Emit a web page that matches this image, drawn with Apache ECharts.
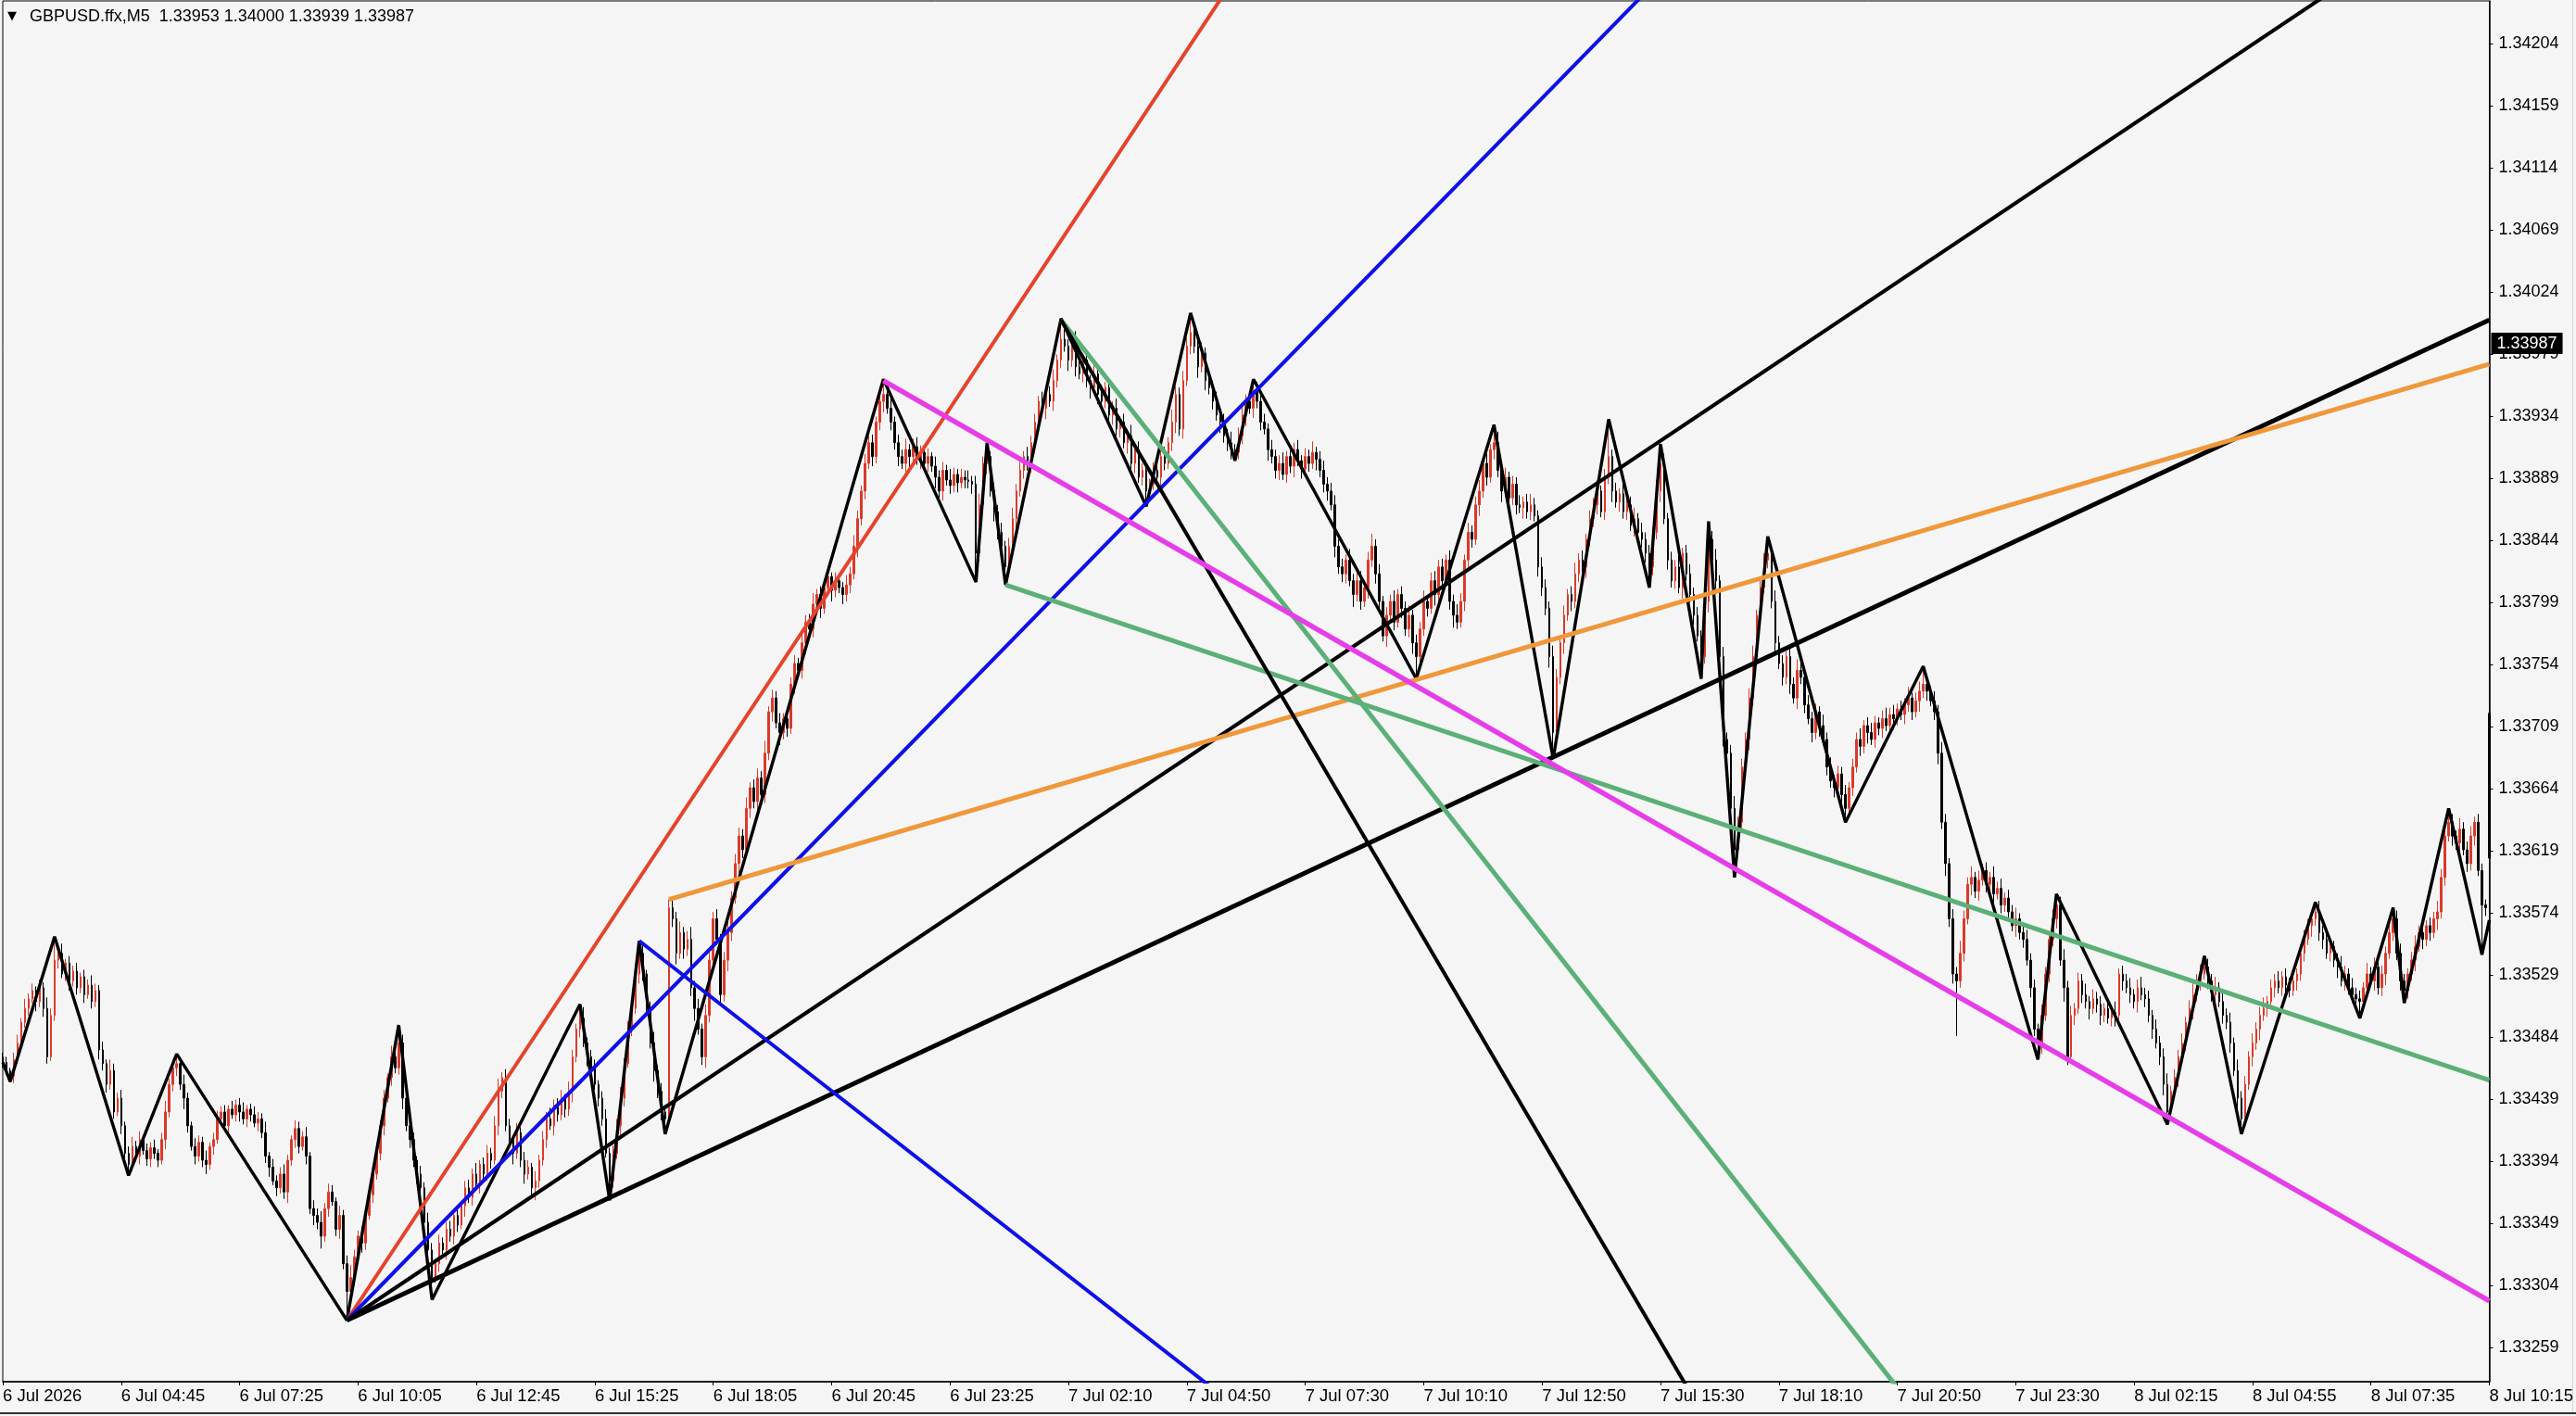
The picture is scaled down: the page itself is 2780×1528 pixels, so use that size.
<!DOCTYPE html>
<html><head><meta charset="utf-8">
<script src="https://cdn.jsdelivr.net/npm/echarts@6/dist/echarts.min.js"></script>
<style>html,body{margin:0;padding:0;background:#f5f5f5;}#c{width:2780px;height:1528px;}</style>
</head><body><div id="c"></div>
<script>
// ---------- DATA (prices in points above 1.33000) ----------
const headerText = 'GBPUSD.ffx,M5  1.33953 1.34000 1.33939 1.33987';
const lastPrice = 1.33987;
const tickLabels = ['6 Jul 2026','6 Jul 04:45','6 Jul 07:25','6 Jul 10:05','6 Jul 12:45','6 Jul 15:25','6 Jul 18:05','6 Jul 20:45','6 Jul 23:25','7 Jul 02:10','7 Jul 04:50','7 Jul 07:30','7 Jul 10:10','7 Jul 12:50','7 Jul 15:30','7 Jul 18:10','7 Jul 20:50','7 Jul 23:30','8 Jul 02:15','8 Jul 04:55','8 Jul 07:35','8 Jul 10:15'];
const priceTicks = [1.33259,1.33304,1.33349,1.33394,1.33439,1.33484,1.33529,1.33574,1.33619,1.33664,1.33709,1.33754,1.33799,1.33844,1.33889,1.33934,1.33979,1.34024,1.34069,1.34114,1.34159,1.34204];

const closes = [
 466,460,456,468,480,495,505,512,518,510,520,505,470,500,540,
 545,530,538,525,532,520,528,515,522,510,518,475,465,450,460,430,440,420,400,392,
 405,398,410,402,396,404,400,395,410,430,450,462,465,
 450,440,420,405,398,408,395,392,405,410,425,430,420,432,428,435,430,425,432,428,
 422,425,415,398,390,380,375,385,372,395,410,418,405,412,398,360,355,350,340,360,372,365,345,355,320,300,
 310,325,340,335,355,370,385,400,420,440,455,470,462,480,
 440,420,410,395,385,375,350,330,310,
 320,335,330,345,340,355,348,362,375,368,385,378,392,385,400,395,420,445,455,420,
 410,400,415,395,385,390,375,380,395,410,425,420,435,428,440,432,445,470,490,498,
 480,470,462,450,440,425,400,380,
 400,420,440,465,490,505,530,545,
 530,505,480,460,445,430,425,
 578,570,545,560,548,555,520,505,490,470,500,540,570,555,515,540,560,585,610,630,
 620,650,665,655,672,660,690,720,730,712,705,715,708,740,755,750,770,785,780,798,
 805,795,810,818,808,815,810,805,812,820,840,860,880,900,915,905,930,945,950,
 940,930,915,905,900,910,905,912,903,908,900,905,898,890,880,895,888,884,892,886,890,888,887,885,835,
 870,900,905,880,865,850,840,825,
 840,860,880,895,905,900,915,930,945,940,950,945,960,975,990,
 985,975,990,970,965,975,960,955,965,950,945,955,935,940,925,930,915,920,900,910,890,895,880,
 885,895,890,905,900,915,930,950,925,960,985,995,
 985,970,980,960,955,945,935,930,920,915,910,908,
 920,935,945,940,952,
 945,930,925,910,905,895,900,892,905,898,910,902,896,905,900,908,903,895,885,880,
 870,840,825,820,830,815,805,815,800,810,830,840,820,800,775,790,800,785,805,795,780,790,770,760,
 780,800,795,815,805,825,815,830,800,790,785,800,830,850,845,870,880,900,890,910,915,
 895,880,890,875,885,870,868,872,865,870,862,825,810,795,760,705,
 745,770,790,805,800,820,830,825,845,860,870,880,865,890,905,
 880,872,878,865,870,855,860,850,845,835,825,
 850,880,900,
 860,830,815,825,810,835,820,805,790,775,760,
 800,845,
 830,815,760,700,690,650,620,
 640,680,700,730,760,790,810,830,835,
 800,770,755,745,760,740,730,750,745,725,715,705,720,710,700,680,670,665,675,660,650,
 665,680,700,695,710,705,700,712,708,715,710,718,715,722,718,725,730,720,728,735,740,
 735,728,720,690,640,610,570,530,525,545,570,595,600,590,598,605,595,600,588,592,580,585,575,565,570,560,555,540,520,490,480,
 500,530,555,570,580,
 540,520,470,500,505,525,515,510,505,512,508,500,505,498,502,500,530,525,520,515,510,520,515,512,500,490,480,470,450,430,
 445,455,470,480,495,505,515,525,530,535,
 525,515,520,510,500,495,480,460,440,425,
 450,470,480,490,500,505,510,520,525,520,528,522,518,525,530,545,555,565,570,575,
 560,555,545,550,540,535,525,530,520,515,512,510,
 520,530,525,535,520,530,545,560,570,
 545,525,518,
 530,540,550,560,555,565,560,570,575,600,630,640,
 630,625,635,620,610,630,640,605,580,578,614
];
const opensGap = [[0,470],[672,719]];

const wickUp = [
 3,4,2,5,6,3,7,4,5,3,6,4,8,5,6,4,7,3,5,4,
 6,3,5,4,7,5,4,6,3,8,5,4,6,3,5,7,4,6,3,5,
 4,6,3,5,8,4,6,3,5,7,4,3,6,5,4,7,3,5,6,4,
 5,3,6,4,5,7,3,4,6,5,4,8,3,6,4,5,7,4,3,6,
 5,4,7,3,6,5,8,4,6,5,3,7,4,6,9,5,4,7,3,6,
 5,7,4,6,3,8,5,4,6,7,4,5,3,6,4,7,5,3,6,4,
 5,6,4,7,3,5,6,4,8,3,5,6,4,7,9,4,6,5,3,7,
 4,6,5,3,7,4,6,5,8,4,5,6,3,7,5,4,6,8,4,5,
 6,3,5,7,4,6,5,8,4,6,5,7,4,6,3,5,8,4,6,5,
 6,7,5,8,4,6,9,5,7,4,8,6,5,7,4,6,8,5,7,6,
 5,8,4,6,7,5,9,4,6,5,7,4,8,5,6,4,7,5,6,8,
 4,6,5,7,3,6,5,4,7,5,8,6,4,7,5,6,4,8,5,6,
 7,4,6,5,8,4,6,7,5,4,6,3,7,5,6,4,8,5,4,6,
 5,7,4,6,8,5,7,4,6,5,7,4,6,8,5,6,4,7,5,6,
 4,7,5,6,8,4,6,7,5,4,6,8,5,7,4,6,5,7,4,6,
 5,7,4,6,5,8,4,6,5,7,4,6,8,5,7,4,9,6,5,7,
 6,4,7,5,8,4,6,5,7,4,6,5,8,4,6,7,5,4,6,7,
 5,6,4,7,5,6,8,4,6,5,7,4,6,5,8,4,6,7,5,6,
 7,5,6,4,8,5,6,7,4,6,9,5,7,4,6,5,8,4,6,5,
 7,4,6,5,8,4,6,7,5,6,4,7,5,8,6,4,7,5,6,8,
 5,7,4,6,8,5,7,4,6,5,7,4,6,8,5,4,7,6,5,8,
 6,5,7,4,6,8,5,7,4,6,5,8,4,6,7,5,6,4,7,5,
 6,8,4,7,5,6,4,8,5,7,4,6,5,8,4,6,7,5,6,4,
 7,5,6,8,4,7,5,6,9,4,6,5,7,8,4,6,5,7,4,8,
 5,6,4,7,5,8,6,4,7,5,6,4,8,5,7,4,6,5,7,4,
 6,5,8,4,6,7,5,4,6,8,5,7,4,6,5,8,4,6,7,5,
 6,4,7,5,8,6,4,7,5,9,6,5,8,4,7,5,6,4,8,5,
 7,4,6,5,8,4,6,7,5,6,4,8,5,6,7,4,6,8,5,7,
 4,6,5,8,4,7,5,6,4,7,5,8,4,6,5,7,4,6,8,5,
 6,4,7,5,6,8,4,6,5,7,4,6,8,5,7,4,6,5,8,4,
 6,5,7,4,8,5,6,4,7,5,6,8,4,6,5,7,4,6,5,8,
 4,6,7,5,6,4,8,5,6,7,4,5,8,6,4,7,5,6,4,8,
 5,7,4,6,5,8,4,6,7,5,4,6,8,5,7,4,6,5,8,6,
 7,5,6,4,8,5,6,7,4,6,5,4,1
];
const wickDn = [
 4,3,4,5,3,6,4,5,3,7,4,6,5,3,4,6,3,5,7,4,
 5,4,6,3,5,4,7,5,6,4,5,3,6,4,8,5,4,6,3,5,
 6,4,5,3,7,4,5,6,4,8,5,3,6,4,5,7,4,6,3,5,
 4,6,3,5,7,4,6,5,3,6,4,5,7,3,6,4,5,8,4,6,
 5,3,6,4,7,5,9,4,6,3,5,7,4,8,5,6,4,7,5,3,
 6,4,5,7,3,6,4,5,8,4,6,5,7,3,6,8,5,4,6,3,
 7,4,6,5,3,8,4,6,5,7,4,5,6,3,7,5,4,6,8,4,
 5,7,4,6,9,5,4,6,3,7,5,4,6,5,8,4,6,3,7,5,
 4,6,5,3,8,5,4,7,6,3,5,4,7,5,6,4,8,5,6,4,
 5,6,8,4,7,5,6,9,4,6,8,5,7,4,6,5,8,6,4,7,
 6,4,7,5,8,4,6,5,7,4,9,5,6,4,7,5,6,8,4,6,
 5,7,4,6,8,5,4,7,5,6,4,8,5,6,4,7,5,6,8,4,
 6,5,7,4,6,8,5,4,7,5,6,4,8,5,7,4,6,5,7,4,
 6,5,7,4,6,5,8,4,7,5,6,4,7,5,8,4,6,5,7,4,
 6,5,8,4,7,5,6,4,8,5,7,4,6,5,8,4,7,6,5,4,
 7,5,6,4,8,5,7,4,6,5,8,4,6,7,5,4,6,8,5,7,
 4,6,5,8,4,7,5,6,4,8,5,6,7,4,5,6,8,4,7,5,
 6,4,8,5,6,7,4,6,5,8,4,7,5,6,4,8,5,6,7,4,
 8,5,6,7,4,9,5,6,4,8,5,7,6,4,8,5,6,4,7,5,
 6,8,4,7,5,6,4,8,5,7,4,6,9,5,4,7,5,6,4,8,
 5,6,4,7,5,8,4,6,5,7,4,8,5,6,4,7,6,5,8,4,
 6,5,8,4,7,5,6,4,8,5,6,7,4,6,5,8,4,7,5,6,
 4,8,5,6,7,4,6,5,8,4,7,5,6,4,8,5,6,7,4,6,
 5,8,4,6,7,5,8,4,6,5,7,4,8,6,5,7,4,6,5,8,
 4,6,5,7,4,8,5,6,4,7,5,8,4,6,5,7,4,6,8,5,
 6,4,7,5,8,4,6,5,7,4,6,8,5,4,7,5,6,4,8,5,
 7,4,6,8,5,9,6,7,40,5,6,4,8,5,7,4,6,5,8,4,
 6,5,7,4,8,5,6,4,7,5,6,8,4,6,5,7,4,10,6,5,
 7,4,6,5,8,4,6,7,5,4,6,8,5,7,4,6,5,8,4,6,
 5,7,4,6,8,5,6,4,7,5,6,4,8,5,7,4,6,5,8,4,
 6,5,7,4,8,5,6,4,7,5,8,4,6,5,7,4,6,8,5,4,
 7,5,6,4,8,5,6,7,4,6,5,8,4,7,5,6,4,8,5,6,
 4,7,5,6,8,4,6,5,7,4,6,5,8,4,7,5,6,4,8,5,
 6,4,7,5,8,4,6,5,7,4,10,6,5
];

const zigzag = [[0,466],[2,452],[14,557],[34,384],[47,472],[93,279],[107,493],[116,294],[156,508],[164,366],[172,554],[179,414],[238,961],[263,814],[266,915],[271,812],[286,1005],[309,869],[321,1009],[333,902],[338,961],[382,744],[403,928],[419,686],[434,932],[445,810],[448,914],[459,744],[461,858],[468,600],[477,847],[498,640],[519,753],[550,468],[555,588],[585,421],[595,543],[605,414],[625,582],[637,498],[646,578],[649,509],[661,650],[670,544],[672,569]];

// trend lines: anchor point and a second point read on the line
const redRay      = [[93,279],[329,1236]];
const blueRay     = [[93,279],[442,1236]];
const blackThin   = [[93,279],[626,1236]];
const blackThick  = [[93,279],[672,1004]];
const blueDown    = [[172,554],[280,328]];
const orangeRay   = [[180,584],[672,972]];
const magentaRay  = [[238,960],[672,293]];
const greenFlat   = [[271,812],[672,453]];
const greenSteep  = [[286,1004],[371,713]];
const blackSteep  = [[286,1004],[454,236]];

// ---------- BUILD ----------
const N = tickLabels.length * 32 - 31; // 673 bars
if (closes.length !== N || wickUp.length !== N || wickDn.length !== N) {
  throw new Error('length mismatch ' + closes.length + ' ' + wickUp.length + ' ' + wickDn.length + ' need ' + N);
}
const px = v => +(1.33 + v / 100000).toFixed(6);
const gapMap = new Map(opensGap);
const highs = [], lows = [];
const opens = closes.map((c, i) => gapMap.has(i) ? gapMap.get(i) : closes[i - 1]);
for (let i = 0; i < N; i++) {
  highs[i] = Math.max(opens[i], closes[i]) + wickUp[i];
  lows[i] = Math.min(opens[i], closes[i]) - wickDn[i];
}
for (let k = 1; k < zigzag.length - 1; k++) {
  const [i, v] = zigzag[k];
  if (v > zigzag[k - 1][1]) highs[i] = Math.max(highs[i], v);
  else lows[i] = Math.min(lows[i], v);
}
const candles = closes.map((c, i) => [px(opens[i]), px(c), px(lows[i]), px(highs[i])]);
const cats = closes.map((c, i) => 'b' + i);
const LAST = N - 1;
function ray(pts) {
  const [[x1, y1], [x2, y2]] = pts;
  const yEnd = y1 + (y2 - y1) * (LAST - x1) / (x2 - x1);
  return [[x1, px(y1)], [LAST, px(yEnd)]];
}
const lineDefs = [
  [redRay, '#e5432c', 4],
  [blueRay, '#0f0fe8', 4],
  [blackThin, '#000000', 4],
  [blackThick, '#000000', 5],
  [blueDown, '#0f0fe8', 4],
  [orangeRay, '#f0973a', 5],
  [greenFlat, '#5bb077', 5],
  [greenSteep, '#5bb077', 5],
  [blackSteep, '#000000', 4],
  [magentaRay, '#e53ee8', 5.5]
];

const chart = echarts.init(document.getElementById('c'), null, {renderer: 'canvas'});
const labelEvery = (idx) => idx % 32 === 0;
const series = [
  {
    type: 'candlestick', data: candles, barWidth: 2, z: 2, clip: false,
    large: false, progressive: 0,
    itemStyle: {color: '#d93a2b', color0: '#000000', borderColor: '#d93a2b', borderColor0: '#000000', borderWidth: 1}
  },
  {
    type: 'line', data: zigzag.map(p => [p[0], px(p[1])]), symbol: 'none', z: 3,
    lineStyle: {color: '#000', width: 3.4}, clip: true
  }
];
lineDefs.forEach(([pts, color, w]) => series.push({
  type: 'line', data: ray(pts), symbol: 'none', z: 4, clip: true,
  lineStyle: {color: color, width: w}
}));

chart.setOption({
  animation: false,
  backgroundColor: '#f5f5f5',
  title: [
    {text: '\u25BC', left: 3, top: 6, textStyle: {fontSize: 13, fontWeight: 'normal', color: '#000', fontFamily: 'DejaVu Sans'}},
    {text: headerText, left: 27, top: 4, textStyle: {fontSize: 18, fontWeight: 'normal', color: '#000', fontFamily: 'Liberation Sans, Arial, sans-serif'}}
  ],
  grid: {left: 0, right: 93, top: 1, bottom: 37, show: true, backgroundColor: '#f5f5f5', borderColor: '#000', borderWidth: 1},
  xAxis: {
    type: 'category', data: cats, boundaryGap: false,
    axisLine: {lineStyle: {color: '#000', width: 1.5}},
    axisTick: {show: true, interval: labelEvery, length: 4, lineStyle: {color: '#000'}},
    axisLabel: {interval: labelEvery, formatter: (v, i) => tickLabels[Math.round(i / 32)], align: 'left', margin: 6,
      fontSize: 18.5, color: '#000', fontFamily: 'Liberation Sans, Arial, sans-serif'},
    splitLine: {show: false}
  },
  yAxis: {
    type: 'value', position: 'right', min: 1.332345, max: 1.342352, scale: true,
    axisLine: {show: true, lineStyle: {color: '#000', width: 1.5}},
    axisTick: {show: true, customValues: priceTicks, length: 4, lineStyle: {color: '#000'}},
    axisLabel: {customValues: priceTicks, formatter: v => v.toFixed(5), margin: 10,
      fontSize: 18, color: '#000', fontFamily: 'Liberation Sans, Arial, sans-serif'},
    splitLine: {show: false}
  },
  series: series
});

// current-price tag on the price scale, positioned through the axis scale
const tagY = chart.convertToPixel({yAxisIndex: 0}, lastPrice);
const axisX = chart.convertToPixel({xAxisIndex: 0}, LAST);
chart.setOption({
  graphic: [
    {type: 'rect', silent: true, shape: {x: 0, y: 1524, width: 2780, height: 2}, style: {fill: '#303030'}},
    {type: 'rect', silent: true, shape: {x: 2776, y: 0, width: 1, height: 1524}, style: {fill: '#d6d6d6'}},
    {type: 'text', silent: true, z: 100, x: axisX + 2, y: tagY,
      style: {text: lastPrice.toFixed(5), fill: '#fff', backgroundColor: '#000', padding: [3, 6, 2, 6],
        font: '18px "Liberation Sans", Arial, sans-serif', align: 'left', verticalAlign: 'middle'}}
  ]
});
</script></body></html>
